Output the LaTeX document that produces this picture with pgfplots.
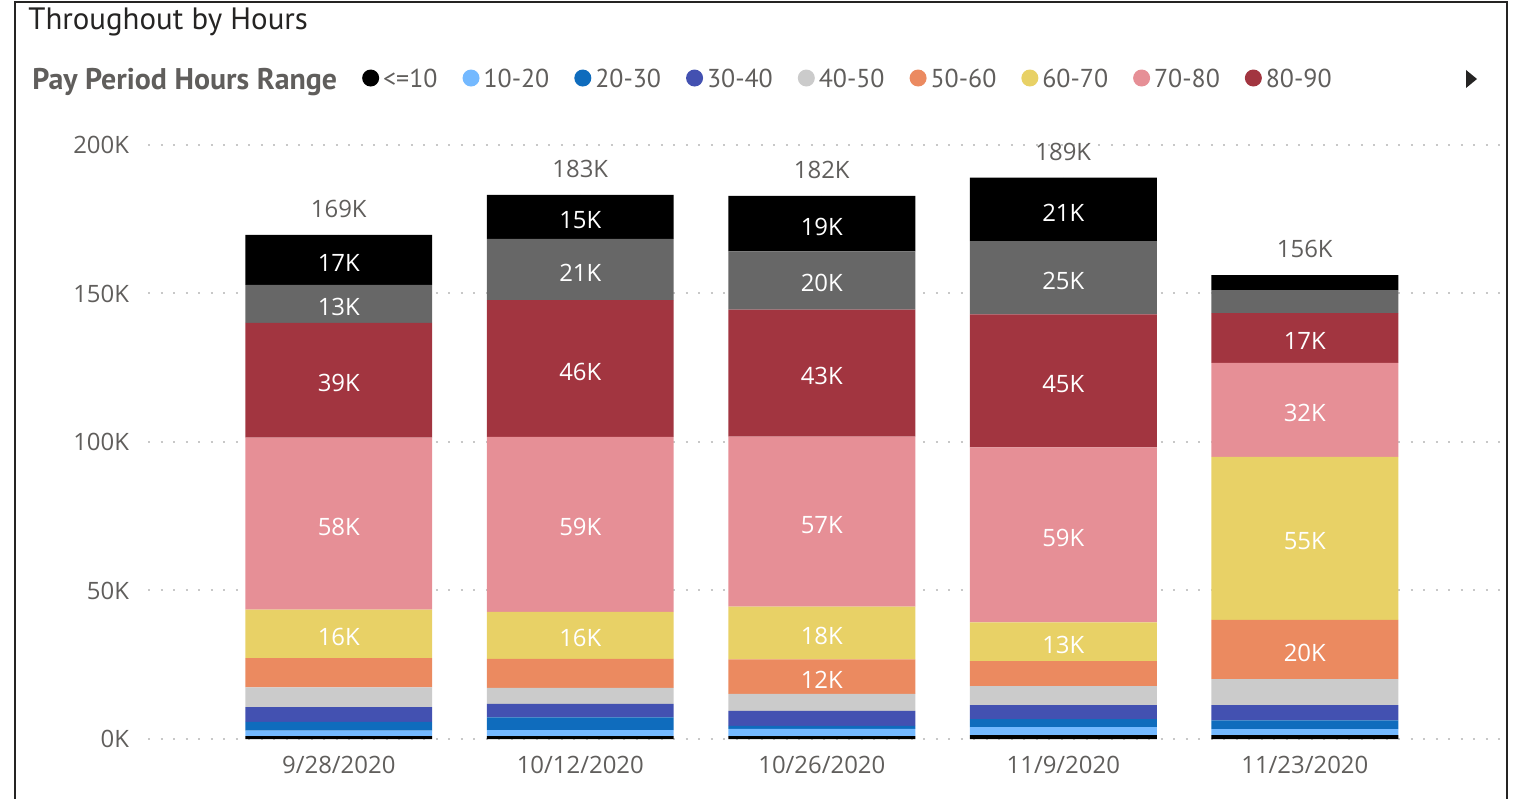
\documentclass[border=0pt]{standalone}
\usepackage{pgfplots}
\pgfplotsset{compat=1.18}
\usepackage{pgfplotstable}
\usepackage{fontspec}
\setmainfont{Open Sans}
\newfontfamily\ptsans{PT Sans}

\definecolor{cA}{HTML}{000000}
\definecolor{cB}{HTML}{74B9FF}
\definecolor{cC}{HTML}{0F6CBD}
\definecolor{cD}{HTML}{4351B1}
\definecolor{cE}{HTML}{CBCBCB}
\definecolor{cF}{HTML}{EB8A60}
\definecolor{cG}{HTML}{E8D166}
\definecolor{cH}{HTML}{E68F96}
\definecolor{cI}{HTML}{A23540}
\definecolor{cJ}{HTML}{676767}
\definecolor{cK}{HTML}{000000}
\definecolor{titlec}{HTML}{252423}
\definecolor{labelgray}{HTML}{605E5C}
\definecolor{gridc}{HTML}{C8C8C8}

% values in thousands, stacked bottom to top; top = bar height, total = shown label
\pgfplotstableread{
x s1 s2 s3 s4 s5 s6 s7 s8 s9 s10 s11 top total
0 1.0 1.8 3.0 4.9 6.7 9.8 16.4 57.9 38.6 12.8 16.8 169.7 169
1 1.0 2.0 4.3 4.5 5.4 9.8 15.8 58.9 46.1 20.6 14.8 183.2 183
2 1.0 2.4 1.0 5.1 5.7 11.6 17.8 57.2 42.8 19.6 18.7 182.9 182
3 1.3 2.7 2.7 4.7 6.4 8.4 13.1 58.9 44.8 24.6 21.4 189.0 189
4 1.3 2.0 3.0 5.1 8.8 19.9 54.9 31.6 16.8 7.7 5.1 156.2 156
}\hours

\pgfplotsset{
  seg/.style={fill=#1, draw=none,
    legend image code/.code={\fill[#1] (4.25bp,0.1em) circle (4.25bp);}},
  frame/.style={at={(74bp,30bp)}, anchor=south west,
    x=120.75bp, y=1.485bp,
    xmin=-0.79, xmax=4.81, ymin=0, ymax=200, clip=false},
}

\begin{document}
\begin{tikzpicture}
\useasboundingbox (0,0) rectangle (757bp,399.5bp);
\begin{axis}[
  frame,
  ybar stacked, bar width=0.774,
  axis line style={draw=none},
  tick style={draw=none},
  ymajorgrids,
  major grid style={draw=gridc, line width=1bp, dash pattern=on 1bp off 5.25bp},
  ytick={0,50,100,150,200},
  yticklabels={0K,50K,100K,150K,200K},
  xtick={0,1,2,3,4},
  xticklabels={9/28/2020,10/12/2020,10/26/2020,11/9/2020,11/23/2020},
  ticklabel style={font=\fontsize{12}{14}\selectfont, text=labelgray},
  yticklabel style={xshift=-6bp},
  xticklabel style={yshift=-5bp},
  visualization depends on=rawy\as\rawy,
  nodes near coords={\ifdim\rawy pt<11pt\else\pgfmathprintnumber[fixed,precision=0,assume math mode=true]{\rawy}K\fi},
  every node near coord/.style={anchor=center, yshift=-1.5bp,
    text=white, font=\fontsize{12}{14}\selectfont},
  legend columns=-1,
  legend style={at={(-0.0888,1.1094)}, anchor=west, draw=none, fill=none,
    font=\ptsans\fontsize{13}{16}\selectfont, text=labelgray,
    inner sep=0pt, /tikz/every even column/.append style={column sep=10.5bp}},
]
\addlegendimage{empty legend}
\addplot[seg=cA] table[x=x, y=s1] {\hours};
\addplot[seg=cB] table[x=x, y=s2] {\hours};
\addplot[seg=cC] table[x=x, y=s3] {\hours};
\addplot[seg=cD] table[x=x, y=s4] {\hours};
\addplot[seg=cE] table[x=x, y=s5] {\hours};
\addplot[seg=cF] table[x=x, y=s6] {\hours};
\addplot[seg=cG] table[x=x, y=s7] {\hours};
\addplot[seg=cH] table[x=x, y=s8] {\hours};
\addplot[seg=cI] table[x=x, y=s9] {\hours};
\addplot[seg=cJ] table[x=x, y=s10] {\hours};
\addplot[seg=cK] table[x=x, y=s11] {\hours};
\legend{{\fontsize{15}{16}\selectfont\bfseries Pay Period Hours Range},<=10,10-20,20-30,30-40,40-50,50-60,60-70,70-80,80-90}
\end{axis}
% bar totals
\begin{axis}[frame, hide axis]
\addplot[only marks, mark=*, mark size=0pt, mark options={draw=none, fill=none},
  point meta=explicit,
  nodes near coords={\pgfmathprintnumber[assume math mode=true]{\pgfplotspointmeta}K},
  every node near coord/.style={anchor=south, yshift=5bp, text=labelgray,
    font=\fontsize{12}{14}\selectfont}]
  table[x=x, y=top, meta=total] {\hours};
\end{axis}
\node[anchor=west, text=titlec, font=\ptsans\fontsize{15.5}{18}\selectfont, inner sep=0pt]
  at (14bp,388.5bp) {Throughout by Hours};
\fill[titlec] (733bp,364.5bp) -- (738.5bp,360bp) -- (733bp,355.5bp) -- cycle;
\draw[titlec, line width=1.2bp] (7.5bp,-5bp) -- (7.5bp,398.5bp) -- (753.5bp,398.5bp) -- (753.5bp,-5bp);
\end{tikzpicture}
\end{document}
